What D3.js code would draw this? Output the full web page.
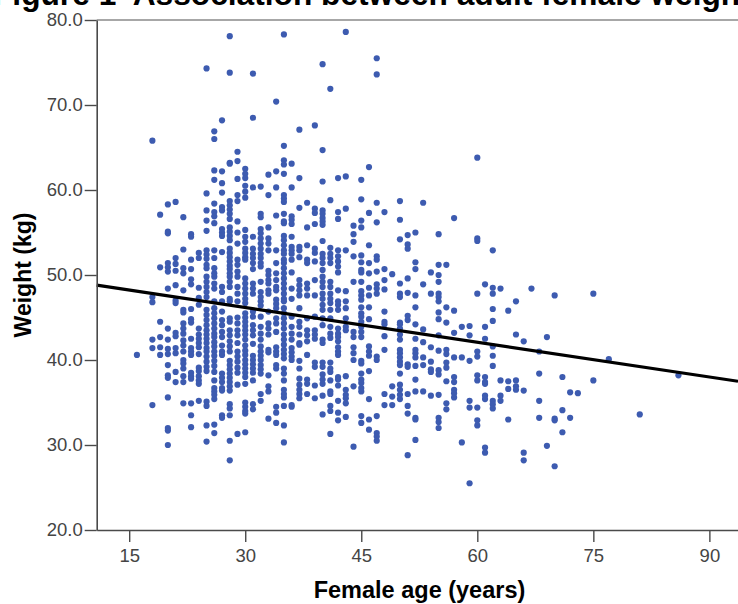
<!DOCTYPE html>
<html>
<head>
<meta charset="utf-8">
<script src="https://cdn.jsdelivr.net/npm/d3@7"></script>
<style>
  html, body { margin: 0; padding: 0; background: #fff; overflow: hidden; }
  svg { display: block; font-family: "Liberation Sans", Arial, sans-serif; }
</style>
</head>
<body>
<svg id="chart" width="738" height="604"></svg>
<script>
const chartTitle = "Figure 1\u00a0 Association between adult female weight";
const xLabel = "Female age (years)";
const yLabel = "Weight (kg)";
const xTicks = [15, 30, 45, 60, 75, 90];
const yTicks = [20, 30, 40, 50, 60, 70, 80];
const xRange = [10.8, 93.7];
const yRange = [20, 80];

// regression line, read at the two edges of the plot
const fitAges = [10.8, 93.7];
const fitWeights = [48.8, 37.5];

// ages are whole years so the points sit in columns
const ages = [16, 18, 19, 20, 21, 22, 23, 24, 25, 26, 27, 28, 29, 30, 31, 32, 33, 34, 35, 36, 37, 38, 39, 40, 41, 42, 43, 44, 45, 46, 47, 48, 49, 50, 51, 52, 53, 54, 55, 56, 57, 58, 59, 60, 61, 62, 63, 64, 65, 66, 67, 68, 69, 70, 71, 72, 73, 75, 77, 81, 86];
const weightsByAge = [
  [40.6],
  [65.8, 47.4, 46.8, 42.4, 41.4, 34.7],
  [57.1, 50.9, 44.5, 42.7, 41.5, 40.6],
  [58.3, 55.1, 54.9, 51.4, 50.9, 50.4, 48.4, 43.7, 42.4, 41.3, 40.7, 39.4, 38.2, 37.9, 35.6, 32, 31.7, 30],
  [58.6, 52, 51.3, 50.5, 48.8, 47, 46.7, 43.2, 42.8, 41.4, 40.8, 38.6, 37.4],
  [56.8, 53, 50.8, 50.2, 48.2, 45.9, 45.6, 44.3, 43.7, 43.1, 42.3, 41.7, 41, 40, 39.6, 39, 38.1, 37.4, 34.9],
  [54.8, 54.5, 51.8, 50.7, 49.5, 48.9, 46, 44.8, 44.4, 42.5, 41.4, 41, 40.6, 38.5, 38.1, 37.8, 34.9, 33.5, 32.1],
  [52.6, 52, 48.5, 47.3, 46.5, 43.7, 43, 42.5, 42, 41.5, 40.7, 39.1, 38.7, 38.1, 37.6, 37.2, 35.2],
  [74.3, 59.6, 57.6, 56.4, 55.2, 52.9, 52.4, 51.9, 51.2, 50.8, 49.8, 49.2, 48.6, 48, 47.4, 45.9, 45.3, 44.7, 44.1, 43.5, 43, 42.5, 42, 41.4, 41, 40.4, 39.8, 39.2, 38.7, 35.1, 34.6, 32.3, 30.4],
  [66.9, 66, 62.3, 61.2, 58.4, 57.4, 56.9, 56.1, 52.9, 52, 50.8, 50.2, 49.8, 49, 48.4, 46.9, 46.1, 45.5, 44.9, 44.3, 43.7, 43.1, 42.7, 42.1, 41.6, 41, 40.5, 39.9, 39.3, 38.6, 37.6, 36.7, 36.3, 35.9, 35.4, 32.4, 31.4],
  [68.2, 62.2, 60.8, 59.7, 58, 57.6, 55.4, 55, 54.6, 52.7, 48.6, 48, 46.9, 45.7, 44.7, 44.1, 43.3, 42.7, 41.7, 41, 40.6, 38.4, 37.9, 37.4, 36.7, 36.4, 33.5, 33.2],
  [78.1, 73.8, 63.2, 63.1, 58.7, 58.2, 57.7, 57.2, 56.6, 55.6, 55.1, 54.6, 54.1, 53.1, 52.6, 52.1, 51.6, 51.1, 50.7, 50.2, 49.8, 49.2, 48.6, 47.2, 46.9, 44.9, 44.5, 43.5, 42.9, 42.2, 41.6, 41, 39.9, 39.4, 38.9, 38.4, 37.9, 37.4, 36.9, 36.4, 34.8, 34.3, 33.5, 30.5, 28.2],
  [64.5, 63.4, 61.3, 59.4, 58.7, 56.3, 55, 53.7, 51.8, 51.2, 50.4, 49.8, 48.6, 47.8, 46.9, 45, 44.3, 43.5, 42.9, 42, 41, 40.4, 39.8, 39.1, 38.5, 37.1, 31.3],
  [62.5, 61.9, 61.4, 60.5, 59.8, 59.1, 55.3, 54.5, 53.9, 53.1, 52.6, 52.1, 51.8, 49.6, 49, 48.4, 47.8, 47.2, 46.7, 45.5, 45, 44.5, 44, 43.5, 43, 42.4, 41.7, 41.1, 40.6, 40, 39.5, 39, 38.5, 38, 37.2, 35, 34.5, 34, 33.7, 31.5],
  [73.7, 68.5, 60.3, 54.5, 53.1, 52.5, 52, 51.4, 50.7, 49, 48.4, 47.8, 45.7, 45.1, 44.1, 43.5, 42.9, 41.9, 40.5, 40, 39.5, 39, 38.5, 37.6, 34.8, 34.2],
  [60.4, 57.2, 56.8, 55.4, 54.9, 54.3, 53.7, 53.1, 52.5, 52, 51.4, 51, 49.2, 48, 47.4, 46.9, 46.4, 45.1, 43.9, 43.1, 42.4, 41.6, 41, 40.5, 40, 39.4, 38.9, 38.4, 36, 35.2],
  [61.8, 59.4, 55.6, 54.3, 53.7, 52.9, 50.5, 50, 49.4, 49, 48.2, 47.8, 45.7, 44.3, 43.7, 43, 41.2, 40.9, 38.2, 36.9, 36.3, 33.1],
  [70.4, 62.2, 60.3, 57, 52.9, 51.4, 50.2, 49.4, 48.6, 48.2, 47.1, 46.6, 46.1, 44.9, 44.3, 43.3, 41.5, 41, 40.6, 39.4, 39, 34.5, 33.8, 32.6],
  [78.3, 65.2, 63.5, 63, 61.9, 59.4, 59, 58.6, 57.2, 56.3, 56.1, 54.6, 54.1, 53.5, 52.9, 52.5, 51.8, 51.4, 50.8, 50.2, 49.6, 49, 48.4, 47.8, 47.2, 46.9, 46.1, 45.5, 44.9, 44.3, 43.7, 43, 42.4, 41.8, 41.2, 40.7, 40.2, 39, 38.4, 37.6, 36.5, 36, 35.6, 34.6, 32.3, 30.3],
  [63.1, 60.3, 56.9, 56.5, 56, 54.5, 53.3, 52.9, 52.5, 51.8, 50.3, 48.4, 47.2, 45.1, 43.9, 43.1, 42.4, 41.4, 40.9, 40.4, 40, 34.7, 34.5],
  [67.1, 61.4, 57.9, 53.3, 52.9, 52.1, 49.4, 48.8, 48.2, 47.6, 46.1, 44.5, 43.9, 43, 42, 41.8, 39.9, 39, 37.8, 37.1, 36.5, 36, 35.5],
  [58.5, 55.6, 53.5, 51.8, 51.4, 49, 48.4, 47.6, 44.9, 43.5, 42.9, 42.2, 40.6, 37.7, 37.2, 36],
  [67.6, 57.8, 57.3, 56, 53.1, 52.6, 51.6, 49.4, 47.6, 45.1, 43.5, 43, 42.5, 39.7, 39.2, 37, 35.5],
  [74.8, 64.7, 61, 57.6, 57.2, 56.7, 56.3, 55.9, 54, 52.5, 52, 51.4, 50.6, 49.8, 49.2, 48.6, 47.8, 47.2, 46.5, 45.9, 44.9, 44.1, 42.4, 42, 39.7, 39.2, 38.3, 37.7, 37.2, 35.8, 33.6],
  [71.9, 58.8, 53.2, 52.5, 52, 51.4, 49.2, 48.6, 47.8, 47.2, 46.7, 45.9, 44.9, 43.9, 43.1, 42.6, 39.7, 39, 38.6, 37.6, 36.3, 36, 34.6, 34, 31.3],
  [61.4, 57.4, 56.6, 52.9, 52.2, 51.6, 51, 50.3, 48.2, 46.9, 46.5, 45.9, 43.7, 43.1, 42.7, 42.2, 41.5, 41, 40.6, 38, 37.7, 37, 35.2, 33.8, 32.9],
  [78.6, 61.6, 57.8, 52.9, 48.1, 46.9, 46.1, 44.9, 43.9, 43.5, 38.1, 36.5, 35.9, 35.5, 34.9, 33.3],
  [55.8, 54.8, 53.9, 52.2, 49.2, 43.3, 42.7, 41.5, 40.8, 40, 36.9, 29.8],
  [61.2, 58.9, 56.4, 55.6, 52.3, 51.5, 50.6, 50.3, 49.2, 48.1, 47.6, 47.1, 46.2, 45.5, 45.1, 44.5, 43.9, 43.3, 42.7, 39.9, 39.6, 38.4, 37.7, 37.3, 36.7, 36.3, 33.4, 32.6],
  [62.7, 57.3, 53.5, 51.4, 50.2, 48.5, 47.6, 46.2, 44.8, 41.6, 41, 40.5, 38.7, 35.4, 33, 31.8],
  [75.5, 73.6, 58.5, 56.2, 52.2, 51.8, 50.4, 48.9, 48.4, 47.8, 40.4, 40, 33.4, 31.4, 31, 30.5],
  [57.4, 50.7, 49.4, 48.3, 45.7, 44.5, 44.2, 42.8, 41.2, 36, 34.7],
  [50.1, 36.9, 35.7, 34.7],
  [58.7, 56.5, 54.2, 49, 47.8, 47.4, 44.4, 44.2, 43.7, 43, 42.4, 41.2, 40.8, 40.3, 39.8, 39.4, 38.4, 37.1, 36.5, 35.9, 35.4],
  [54.7, 53.6, 53.1, 49.6, 47.9, 45.2, 44.7, 39.5, 39.2, 36, 34.6, 33.7, 28.8],
  [55, 51.5, 50.7, 47.6, 46.2, 44.2, 42.5, 41.2, 40.8, 40.3, 39.3, 37.7, 36.3, 33.2, 33, 30.6],
  [58.5, 48.9, 43.6, 42.1, 40.3, 39.4, 36.3],
  [50.3, 47.8, 41.5, 39.8, 38.9, 38.6, 35.8],
  [54.8, 51.2, 50, 49.2, 47.8, 47.4, 46.9, 45.6, 44.8, 42.9, 41.1, 38.8, 38.3, 35.9, 33.2, 32.7, 32],
  [51.2, 46.2, 44.4, 41.2, 40.7, 39.7, 39.1, 37.5, 34.9, 34.2],
  [56.7, 45.8, 43.2, 40.3, 38, 37.4, 36.5, 36.1, 35.6],
  [43.9, 40.3, 30.3],
  [44, 42.9, 39.9, 35.2, 34.4, 25.5],
  [63.8, 54.3, 54, 47.8, 41, 40.4, 38.2, 37.6, 34.4, 32.9, 32.3],
  [48.9, 43.9, 42.5, 38, 37.4, 37.2, 35.8, 35.4, 29.7, 29.1],
  [52.9, 48.5, 47.8, 46, 44.6, 41.6, 40.5, 39.3, 35.2, 34.8, 34.3],
  [48.4, 37.6, 35.8, 35.2],
  [45.8, 37.5, 36.6, 33],
  [46.9, 43, 37.6, 36.9, 36.5],
  [42.2, 36.4, 29.1, 28.2],
  [48.4],
  [41, 38.4, 35.2, 33.2],
  [42.7, 29.9],
  [47.6, 33.1, 32.9, 27.5],
  [38, 34.1, 31.5],
  [36.2, 33.2],
  [36.1],
  [47.8, 37.6],
  [40.1],
  [33.6],
  [38.2]
];

const svg = d3.select("#chart");

const xScale = d3.scaleLinear().domain(xRange).range([96.7, 738]);
const yScale = d3.scaleLinear().domain(yRange).range([530, 20]);

// title is cut off by the top and side of the picture in the source
svg.append("text")
  .attr("x", -7)
  .attr("y", 4.5)
  .attr("font-size", 31.7)
  .attr("font-weight", "bold")
  .text(chartTitle);

const lAxis = d3.axisLeft(yScale)
  .tickValues(yTicks)
  .tickFormat(d3.format(".1f"))
  .tickSize(12)
  .tickSizeOuter(0)
  .tickPadding(2);

const bAxis = d3.axisBottom(xScale)
  .tickValues(xTicks)
  .tickSize(12)
  .tickSizeOuter(0)
  .tickPadding(7);

// top frame line
svg.append("line")
  .attr("x1", xScale(xRange[0]))
  .attr("x2", xScale(xRange[1]))
  .attr("y1", yScale(yRange[1]))
  .attr("y2", yScale(yRange[1]))
  .attr("stroke", "#8a8a8a")
  .attr("stroke-width", 1.5);

const points = ages.flatMap((age, i) => weightsByAge[i].map(w => ({age: age, w: w})));

svg.append("g")
  .selectAll("circle")
  .data(points)
  .join("circle")
  .attr("cx", d => xScale(d.age))
  .attr("cy", d => yScale(d.w))
  .attr("r", 3.1)
  .attr("fill", "#3d5bb0");

const fitLine = d3.line()
  .x(d => xScale(d))
  .y((d, i) => yScale(fitWeights[i]));

svg.append("path")
  .attr("d", fitLine(fitAges))
  .attr("fill", "none")
  .attr("stroke", "#000")
  .attr("stroke-width", 3.2);

const leftG = svg.append("g")
  .attr("transform", "translate(96.7,0)")
  .call(lAxis);

const bottomG = svg.append("g")
  .attr("transform", "translate(0,530)")
  .call(bAxis);

[leftG, bottomG].forEach(g => {
  g.selectAll(".domain").attr("stroke", "#4a4a4a").attr("stroke-width", 1.6);
  g.selectAll(".tick line").attr("stroke", "#4a4a4a").attr("stroke-width", 1.4);
  g.selectAll(".tick text")
    .attr("font-family", "Liberation Sans, Arial, sans-serif")
    .attr("font-size", 18.5)
    .attr("fill", "#444");
});

svg.append("text")
  .attr("x", 419.5)
  .attr("y", 598)
  .attr("text-anchor", "middle")
  .attr("font-size", 23.5)
  .attr("font-weight", "bold")
  .text(xLabel);

svg.append("text")
  .attr("transform", "translate(31,275) rotate(-90)")
  .attr("text-anchor", "middle")
  .attr("font-size", 23)
  .attr("font-weight", "bold")
  .text(yLabel);
</script>
</body>
</html>
